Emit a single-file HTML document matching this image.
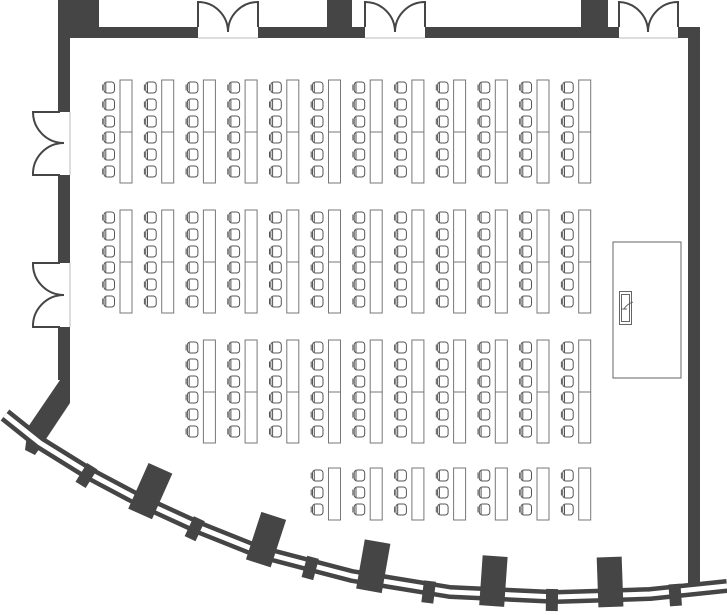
<!DOCTYPE html>
<html><head><meta charset="utf-8"><style>html,body{margin:0;padding:0;background:#fff}svg{display:block}</style></head>
<body>
<svg width="727" height="615" viewBox="0 0 727 615" xmlns="http://www.w3.org/2000/svg">
<defs>
<g id="ch" fill="none" stroke="#555" stroke-width="1">
<rect x="2" y="0" width="10.5" height="11" rx="3"/>
<path d="M0.7,2.5 v6 M3.8,0.8 v9.5"/>
</g>
<g id="col">
<use href="#ch" y="2"/><use href="#ch" y="19"/><use href="#ch" y="36"/>
<use href="#ch" y="52"/><use href="#ch" y="69"/><use href="#ch" y="86"/>
<rect x="18" y="0" width="12" height="103" fill="#fff" stroke="#777" stroke-width="1"/>
<line x1="18" y1="52" x2="30" y2="52" stroke="#777" stroke-width="1"/>
</g>
<g id="scol">
<use href="#ch" y="2"/><use href="#ch" y="19"/><use href="#ch" y="36"/>
<rect x="18" y="0" width="12" height="52" fill="#fff" stroke="#777" stroke-width="1"/>
</g>
</defs>

<g fill="#454545">
<rect x="58" y="27" width="642" height="11"/>
<rect x="58" y="0" width="41" height="27"/>
<rect x="327" y="0" width="25" height="27"/>
<rect x="581" y="0" width="27" height="27"/>
<rect x="688" y="27" width="12" height="568"/>
<rect x="58" y="27" width="12" height="353"/>
<polygon points="60,380 70,380 70,403 44,442 35,455 25,450 28,427"/>
</g>
<g fill="#fff">
<rect x="198" y="26" width="60" height="13"/>
<rect x="365" y="26" width="60" height="13"/>
<rect x="619" y="26" width="59" height="13"/>
<rect x="57" y="112" width="14" height="63"/>
<rect x="57" y="263" width="14" height="64"/>
</g>
<g stroke="#bbb" stroke-width="1">
<line x1="198" y1="38" x2="258" y2="38"/><line x1="365" y1="38" x2="425" y2="38"/><line x1="619" y1="38" x2="678" y2="38"/>
<line x1="70" y1="112" x2="70" y2="175"/><line x1="70" y1="263" x2="70" y2="327"/>
</g>
<g fill="none" stroke="#454545" stroke-width="2">
<path d="M198,27 V2 A30,30 0 0 1 228,32 M258,27 V2 A30,30 0 0 0 228,32"/>
<path d="M365,27 V2 A30,30 0 0 1 395,32 M425,27 V2 A30,30 0 0 0 395,32"/>
<path d="M619,27 V2 A30,30 0 0 1 648,32 M678,27 V2 A30,30 0 0 0 648,32"/>
<path d="M60,112 H33 A31,31 0 0 0 64,143 M60,175 H33 A31,31 0 0 1 64,143"/>
<path d="M60,263 H33 A31,31 0 0 0 64,295 M60,327 H33 A31,31 0 0 1 64,295"/>
</g>
<polyline points="5,415 40,443 90,474 139,500 200,528 260,552 352,576 450,592 556,597 650,594 727,586" fill="none" stroke="#454545" stroke-width="14" stroke-linejoin="round"/>
<polyline points="5,415 40,443 90,474 139,500 200,528 260,552 352,576 450,592 556,597 650,594 727,586" fill="none" stroke="#fff" stroke-width="5" stroke-linejoin="round"/>
<g fill="#454545">
<rect x="-13" y="-38" width="26" height="50" transform="translate(145,503) rotate(24)"/>
<rect x="-13" y="-38" width="26" height="50" transform="translate(262,552) rotate(18)"/>
<rect x="-13" y="-38" width="26" height="50" transform="translate(371,579) rotate(10)"/>
<rect x="-12" y="-38" width="25" height="50" transform="translate(492,594) rotate(4)"/>
<rect x="-12" y="-38" width="25" height="50" transform="translate(610,595) rotate(-2)"/>
<rect x="-6" y="-8" width="12" height="22" transform="translate(88,473) rotate(32)"/>
<rect x="-6" y="-8" width="12" height="22" transform="translate(196,526) rotate(25)"/>
<rect x="-6" y="-8" width="12" height="22" transform="translate(311,565) rotate(15)"/>
<rect x="-6" y="-8" width="12" height="22" transform="translate(429,589) rotate(7)"/>
<rect x="-6" y="-8" width="12" height="22" transform="translate(552,597) rotate(1)"/>
<rect x="-6" y="-8" width="12" height="22" transform="translate(675,592) rotate(-4)"/>
</g>
<g>
<use href="#col" x="102" y="80"/><use href="#col" x="143.7" y="80"/><use href="#col" x="185.4" y="80"/><use href="#col" x="227.1" y="80"/>
<use href="#col" x="268.8" y="80"/><use href="#col" x="310.5" y="80"/><use href="#col" x="352.2" y="80"/><use href="#col" x="393.9" y="80"/>
<use href="#col" x="435.6" y="80"/><use href="#col" x="477.3" y="80"/><use href="#col" x="519" y="80"/><use href="#col" x="560.7" y="80"/>
</g>
<g>
<use href="#col" x="102" y="210"/><use href="#col" x="143.7" y="210"/><use href="#col" x="185.4" y="210"/><use href="#col" x="227.1" y="210"/>
<use href="#col" x="268.8" y="210"/><use href="#col" x="310.5" y="210"/><use href="#col" x="352.2" y="210"/><use href="#col" x="393.9" y="210"/>
<use href="#col" x="435.6" y="210"/><use href="#col" x="477.3" y="210"/><use href="#col" x="519" y="210"/><use href="#col" x="560.7" y="210"/>
</g>
<g>
<use href="#col" x="185.4" y="340"/><use href="#col" x="227.1" y="340"/>
<use href="#col" x="268.8" y="340"/><use href="#col" x="310.5" y="340"/><use href="#col" x="352.2" y="340"/><use href="#col" x="393.9" y="340"/>
<use href="#col" x="435.6" y="340"/><use href="#col" x="477.3" y="340"/><use href="#col" x="519" y="340"/><use href="#col" x="560.7" y="340"/>
</g>
<g>
<use href="#scol" x="310.5" y="468"/><use href="#scol" x="352.2" y="468"/><use href="#scol" x="393.9" y="468"/>
<use href="#scol" x="435.6" y="468"/><use href="#scol" x="477.3" y="468"/><use href="#scol" x="519" y="468"/><use href="#scol" x="560.7" y="468"/>
</g>
<rect x="613" y="242" width="68" height="136" fill="#fff" stroke="#666" stroke-width="1"/>
<g fill="none" stroke="#555" stroke-width="0.9">
<rect x="619.5" y="291.5" width="12" height="33"/>
<rect x="621.5" y="294.5" width="8" height="27"/>
<path d="M624,309 q3,-5 9,-7"/>
<line x1="621" y1="309" x2="627" y2="309"/>
</g>
</svg>
</body></html>
